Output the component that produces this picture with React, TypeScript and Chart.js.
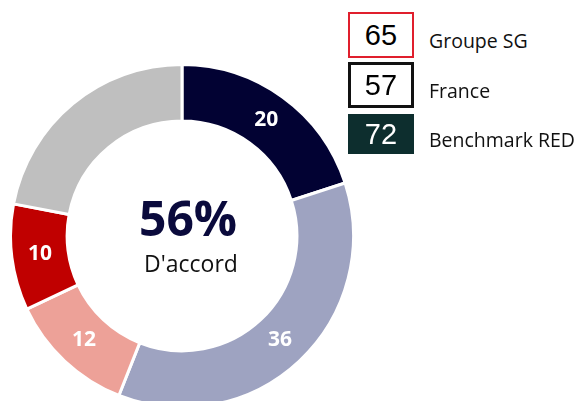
import React, { useEffect, useRef } from "react";
import { Chart, registerables } from "chart.js";

Chart.register(...registerables);

const segmentLabels = ["Tout à fait d'accord", "Plutôt d'accord", "Plutôt pas d'accord", "Pas du tout d'accord", "Sans réponse"];
const segmentValues = [20, 36, 12, 10, 22];
const segmentShown = [true, true, true, true, false];
const segmentColors = ["#020233", "#9ea3c1", "#eda198", "#c00000", "#bfbfbf"];
const centerValue = "56%";
const centerLabel = "D'accord";

const benchNames = ["Groupe SG", "France", "Benchmark RED"];
const benchValues = [65, 57, 72];
const benchStyles = [
  { border: "2px solid #e01f2d", bg: "#ffffff", color: "#000000" },
  { border: "3px solid #111111", bg: "#ffffff", color: "#000000" },
  { border: "2px solid #0d2e2e", bg: "#0d2e2e", color: "#ffffff" },
];

const FONT = "'Open Sans', 'Noto Sans', sans-serif";

export default function App() {
  const ref = useRef<HTMLCanvasElement | null>(null);

  useEffect(() => {
    if (!ref.current) return;
    const labelPlugin = {
      id: "segLabels",
      afterDatasetsDraw(chart: any) {
        const ctx = chart.ctx;
        const meta = chart.getDatasetMeta(0);
        ctx.save();
        ctx.fillStyle = "#ffffff";
        ctx.font = `bold 21px ${FONT}`;
        ctx.textAlign = "center";
        ctx.textBaseline = "middle";
        meta.data.forEach((arc: any, i: number) => {
          if (!segmentShown[i]) return;
          const p = arc.tooltipPosition();
          ctx.fillText(String(segmentValues[i]), p.x, p.y);
        });
        const a = meta.data[0];
        const cx = a.x + 6;
        const cy = a.y;
        ctx.fillStyle = "#0a0a3c";
        ctx.font = `bold 48px ${FONT}`;
        ctx.fillText(centerValue, cx, cy - 14);
        ctx.fillStyle = "#111111";
        ctx.font = `23px ${FONT}`;
        ctx.fillText(centerLabel, cx + 3, cy + 29);
        ctx.restore();
      },
    };
    const chart = new Chart(ref.current, {
      type: "doughnut",
      data: {
        labels: segmentLabels,
        datasets: [
          {
            data: segmentValues,
            backgroundColor: segmentColors,
            borderColor: "#ffffff",
            borderWidth: 3,
          },
        ],
      },
      options: {
        animation: false,
        responsive: false,
        cutout: "67%",
        rotation: 0,
        layout: { padding: 0 },
        plugins: { legend: { display: false }, tooltip: { enabled: false } },
      },
      plugins: [labelPlugin],
    });
    return () => chart.destroy();
  }, []);

  return (
    <div style={{ position: "fixed", left: 0, top: 0, width: 581, height: 401, background: "#ffffff", overflow: "hidden" }}>
      <canvas ref={ref} width={346} height={346} style={{ position: "absolute", left: 9, top: 63, width: 346, height: 346 }} />
      {benchNames.map((name, i) => (
        <div key={name} style={{ position: "absolute", left: 348, top: [12, 62, 114][i], height: [46, 46, 40][i], width: 480 }}>
          <div
            style={{
              position: "absolute",
              left: 0,
              top: 0,
              width: 66,
              height: [46, 46, 40][i],
              boxSizing: "border-box",
              border: benchStyles[i].border,
              background: benchStyles[i].bg,
              color: benchStyles[i].color,
              fontFamily: "'Liberation Sans', Arial, sans-serif",
              fontSize: 29,
              display: "flex",
              alignItems: "center",
              justifyContent: "center",
            }}
          >
            {benchValues[i]}
          </div>
          <div
            style={{
              position: "absolute",
              left: 81,
              top: 0,
              height: [46, 46, 40][i],
              display: "flex",
              alignItems: "center",
              fontFamily: FONT,
              fontSize: 19.5,
              color: "#111111",
              whiteSpace: "nowrap",
              paddingTop: 5,
            }}
          >
            {name}
          </div>
        </div>
      ))}
    </div>
  );
}
